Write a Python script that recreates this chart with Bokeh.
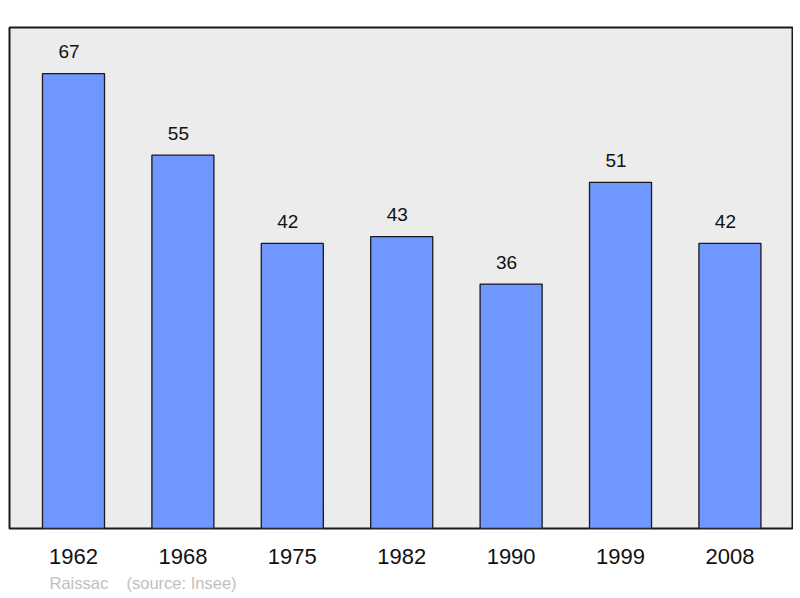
from bokeh.plotting import figure
from bokeh.models import Range1d, FixedTicker, ColumnDataSource, Title
from bokeh.core.properties import value
from bokeh.embed import file_html
from bokeh.resources import INLINE

years = ["1962", "1968", "1975", "1982", "1990", "1999", "2008"]
population = [67, 55, 42, 43, 36, 51, 42]
caption = "Raissac\u00a0\u00a0\u00a0\u00a0(source: Insee)"

idx = list(range(len(years)))
src = ColumnDataSource(dict(x=idx, top=population, lab=[str(v) for v in population]))

p = figure(width=793, height=598, output_backend="svg", toolbar_location=None,
           x_range=Range1d(-0.585, 6.572), y_range=Range1d(0, 73.8),
           y_axis_location=None, min_border_left=9, min_border_right=1,
           min_border_top=27, min_border_bottom=70)
p.background_fill_color = "#ececec"
p.border_fill_color = "white"
p.outline_line_color = "#1a1a1a"
p.outline_line_width = 2
p.xgrid.visible = False
p.ygrid.visible = False

p.vbar(x="x", top="top", width=0.567, bottom=0, source=src,
       fill_color="#7097ff", line_color="#1a1a1a", line_width=1.3)
p.text(x="x", y="top", text="lab", source=src, text_align="center",
       text_baseline="alphabetic", x_offset=-4.5, y_offset=-22, text_font_size="19px",
       text_font=value("Liberation Sans"), text_color="#111111")

ax = p.xaxis[0]
ax.ticker = FixedTicker(ticks=idx)
ax.major_label_overrides = {i: y for i, y in zip(idx, years)}
ax.major_tick_line_color = None
ax.minor_tick_line_color = None
ax.axis_line_color = None
ax.major_label_standoff = 14
ax.major_label_text_font = "Liberation Sans"
ax.major_label_text_font_size = "22px"
ax.major_label_text_color = "#111111"

t = Title(text=caption, align="left", offset=40, text_font="Liberation Sans",
          text_font_size="16.5px", text_font_style="normal", text_color="#c0c0c0")
p.add_layout(t, "below")

open("out.html", "w").write(file_html(p, INLINE))
